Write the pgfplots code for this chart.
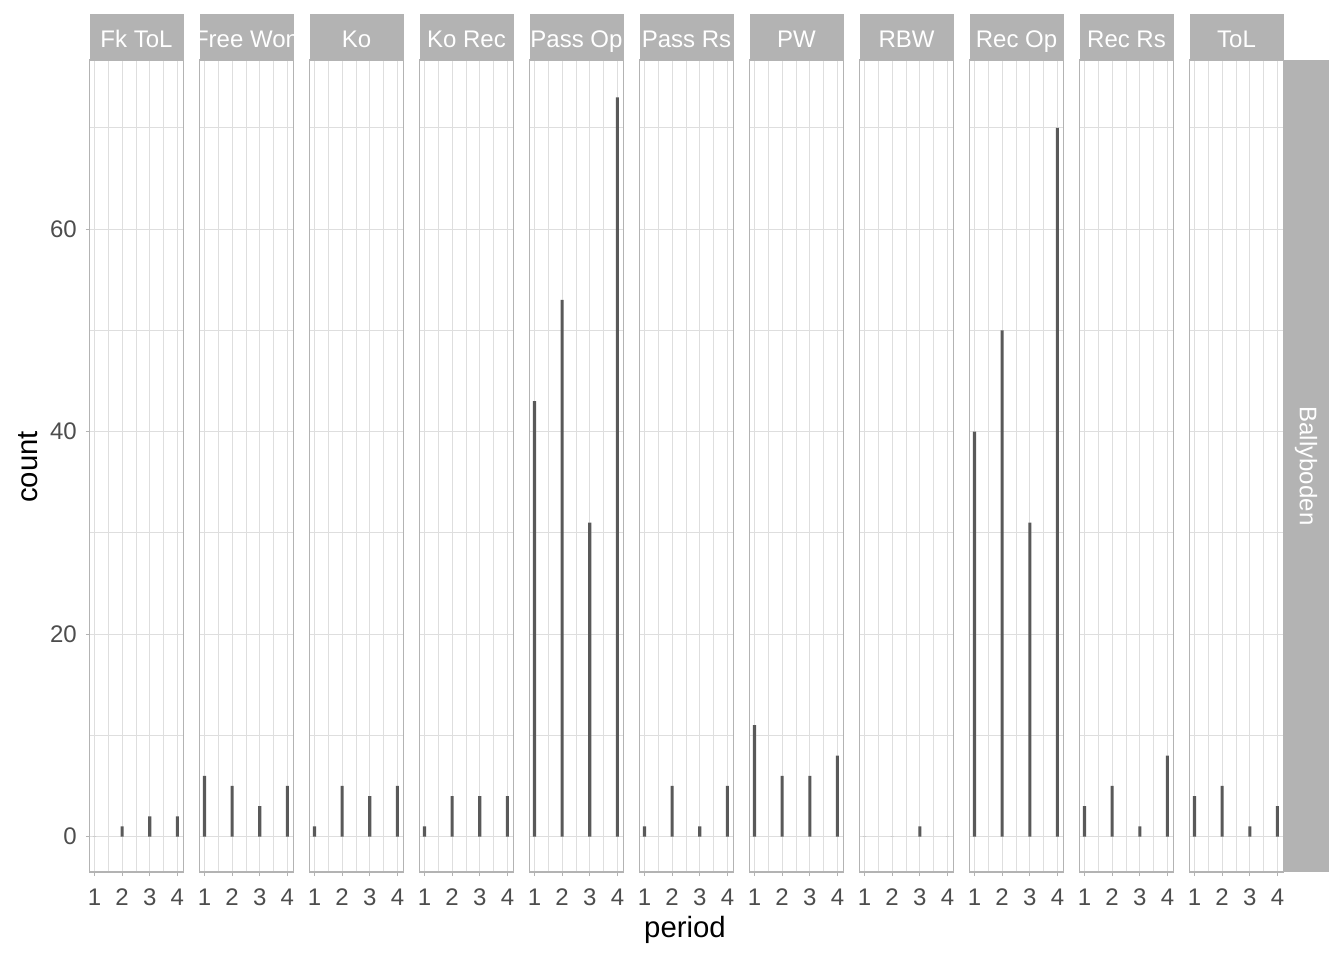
\documentclass[border=0pt]{standalone}
\usepackage{pgfplots}
\pgfplotsset{compat=1.18}
\usepackage{pgfplotstable}
\usepackage{fontspec}
\setmainfont{Liberation Sans}
\definecolor{stripgray}{HTML}{B3B3B3}
\definecolor{gridgray}{HTML}{DEDEDE}
\definecolor{bargray}{HTML}{595959}
\definecolor{ticktext}{HTML}{4D4D4D}

\pgfplotstableread{
period FkToL FreeWon Ko KoRec PassOp PassRs PW RBW RecOp RecRs ToL
1 0 6 1 1 43 1 11 0 40 3 4
2 1 5 5 4 53 5 6 0 50 5 5
3 2 3 4 4 31 1 6 1 31 1 1
4 2 5 5 4 73 5 8 0 70 8 3
}\data

\pgfplotsset{panel/.style={
  scale only axis, width=70.5pt, height=609pt, anchor=south west,
  xmin=0.82, xmax=4.22, ymin=-3.5, ymax=76.7,
  xtick={1,2,3,4}, minor xtick={1.5,2.5,3.5},
  ytick={0,20,40,60}, minor ytick={10,30,50,70},
  grid=both,
  major grid style={gridgray, line width=0.8pt},
  minor grid style={gridgray, line width=0.5pt},
  axis line style={stripgray, line width=1pt},
  tick align=outside, xtick pos=bottom, ytick pos=left,
  major tick length=3pt, minor tick length=0pt,
  tick style={stripgray, line width=0.8pt},
  xticklabel style={font=\fontsize{18}{21}\selectfont, text=ticktext, yshift=-6pt},
  yticklabel style={font=\fontsize{18}{21}\selectfont, text=ticktext, xshift=-3pt},
  /pgf/number format/assume math mode=true,
  ybar, bar width=2.3pt, bar shift=0pt,
}}

\newcommand\panel[4]{%
  \begin{axis}[panel, at={({0.75pt*(89.5+110*#1)},{66pt})}, #4]
    \addplot[fill=bargray, draw=none] table[x=period, y=#2] {\data};
  \end{axis}
  \fill[stripgray] ({89.5+110*#1},{900}) rectangle ({89.5+110*#1+94},{946});
  \begin{scope}
    \clip ({89.5+110*#1},{900}) rectangle ({89.5+110*#1+94},{946});
    \node[text=white, anchor=base, inner sep=0pt, font=\fontsize{18}{21}\selectfont] at ({89.5+110*#1+47},{912.5}) {#3};
  \end{scope}
}

\begin{document}
\begin{tikzpicture}[x=0.75pt, y=0.75pt]
  \path (0,0) rectangle (1344,960);
  \panel{0}{FkToL}{Fk ToL}{}
  \panel{1}{FreeWon}{Free Won}{yticklabels={}, ytick style={draw=none}}
  \panel{2}{Ko}{Ko}{yticklabels={}, ytick style={draw=none}}
  \panel{3}{KoRec}{Ko Rec}{yticklabels={}, ytick style={draw=none}}
  \panel{4}{PassOp}{Pass Op}{yticklabels={}, ytick style={draw=none}}
  \panel{5}{PassRs}{Pass Rs}{yticklabels={}, ytick style={draw=none}}
  \panel{6}{PW}{PW}{yticklabels={}, ytick style={draw=none}}
  \panel{7}{RBW}{RBW}{yticklabels={}, ytick style={draw=none}}
  \panel{8}{RecOp}{Rec Op}{yticklabels={}, ytick style={draw=none}}
  \panel{9}{RecRs}{Rec Rs}{yticklabels={}, ytick style={draw=none}}
  \panel{10}{ToL}{ToL}{yticklabels={}, ytick style={draw=none}}
  \fill[stripgray] (1283,88) rectangle (1329,900);
  \node[text=white, rotate=-90, font=\fontsize{18}{21}\selectfont] at (1306,494) {Ballyboden};
  \node[font=\fontsize{22}{26}\selectfont, rotate=90] at (28,493) {count};
  \node[font=\fontsize{22}{26}\selectfont] at (685,30) {period};
\end{tikzpicture}
\end{document}
